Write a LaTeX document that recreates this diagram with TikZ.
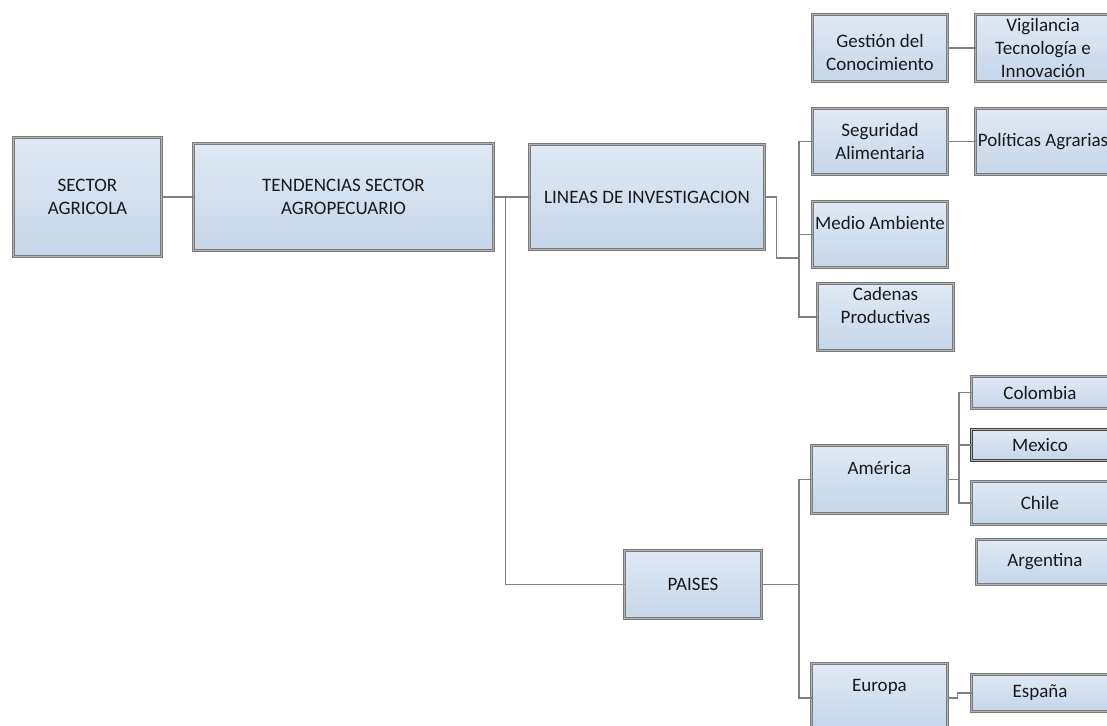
\documentclass[tikz,border=0pt]{standalone}
\usepackage{fontspec}
\setmainfont{Carlito}
\usetikzlibrary{positioning}
\definecolor{cajaclara}{HTML}{E0E9F4}
\definecolor{cajaoscura}{HTML}{C4D6EA}
\tikzset{
    caja/.style={draw=black!52, line width=1.4pt, double=black!30, double distance=0.9pt, top color=cajaclara, bottom color=cajaoscura, inner sep=0pt, outer sep=0pt, align=center, text=black!90, font=\fontsize{19}{23}\selectfont},
    conector/.style={draw=black!50, line width=1.6pt}
}

\begin{document}
\begin{tikzpicture}[x=1pt, y=-1pt]
                \useasboundingbox (0,0) rectangle (1107,725);
                % raiz
                \node[caja, minimum width=148pt, minimum height=119pt] (sector) at (87.5,197) {SECTOR\\AGRICOLA};
                \node[caja, minimum width=300pt, minimum height=107pt] (tendencias) at (343.5,197) {TENDENCIAS SECTOR\\AGROPECUARIO};
                \node[caja, minimum width=235pt, minimum height=105pt] (lineas) at (647,197) {LINEAS DE INVESTIGACION};
                \node[caja, minimum width=137pt, minimum height=68pt] (paises) at (693,584.5) {PAISES};
                % lineas de investigacion
                \node[caja, minimum width=135pt, minimum height=67pt] (gestion) at (880,48) {\mbox{}\\Gestión del\\Conocimiento};
                \node[caja, minimum width=135pt, minimum height=67pt, right=28pt of gestion] (vigilancia) {Vigilancia\\Tecnología e\\Innovación};
                \node[caja, minimum width=135pt, minimum height=66pt] (seguridad) at (880,141.5) {Seguridad\\Alimentaria};
                \node[caja, minimum width=135pt, minimum height=66pt, right=28pt of seguridad] (politicas) {Políticas Agrarias};
                \node[caja, minimum width=135pt, minimum height=66pt] (medio) at (880,234.5) {Medio Ambiente\\\mbox{}};
                \node[caja, minimum width=136pt, minimum height=67pt] (cadenas) at (885.5,317) {Cadenas\\Productivas\\\mbox{}};
                % paises
                \node[caja, minimum width=136pt, minimum height=68pt] (america) at (879.5,479.5) {América\\\mbox{}};
                \node[caja, minimum width=136pt, minimum height=66pt] (europa) at (879.5,696.5) {Europa\\\mbox{}};
                \node[caja, minimum width=137pt, minimum height=32pt] (colombia) at (1040,392.5) {Colombia};
                \node[caja, minimum width=137pt, minimum height=31pt, draw=black!75] (mexico) at (1040,445) {Mexico};
                \node[caja, minimum width=137pt, minimum height=43pt] (chile) at (1040,503) {Chile};
                \node[caja, minimum width=137pt, minimum height=45pt] (argentina) at (1045,562) {Argentina};
                \node[caja, minimum width=137pt, minimum height=37pt] (espana) at (1040,693) {España};
                \coordinate (busL) at (799,258);
                \coordinate (busP) at (799,584.5);
                \coordinate (busA) at (959,479.5);
                \draw[conector] (sector) -- (tendencias);
                \draw[conector] (tendencias) -- (lineas);
                \draw[conector] (tendencias.east) -- ++(12,0) |- (paises);
                \draw[conector] (lineas.east) -- ++(12,0) |- (busL);
                \draw[conector] (busL) |- (seguridad.west);
                \draw[conector] (busL) |- (medio.west);
                \draw[conector] (busL) |- (cadenas.west);
                \draw[conector] (gestion) -- (vigilancia);
                \draw[conector] (seguridad) -- (politicas);
                \draw[conector] (paises) -- (busP);
                \draw[conector] (busP) |- (america.west);
                \draw[conector] (busP) |- ([yshift=-1.5pt]europa.west);
                \draw[conector] (america) -- (busA);
                \draw[conector] (busA) |- (colombia.west);
                \draw[conector] (busA) |- (mexico.west);
                \draw[conector] (busA) |- (chile.west);
                \draw[conector] ([yshift=-1.5pt]europa.east) -- ++(10,0) |- (espana.west);
            \end{tikzpicture}
\end{document}
